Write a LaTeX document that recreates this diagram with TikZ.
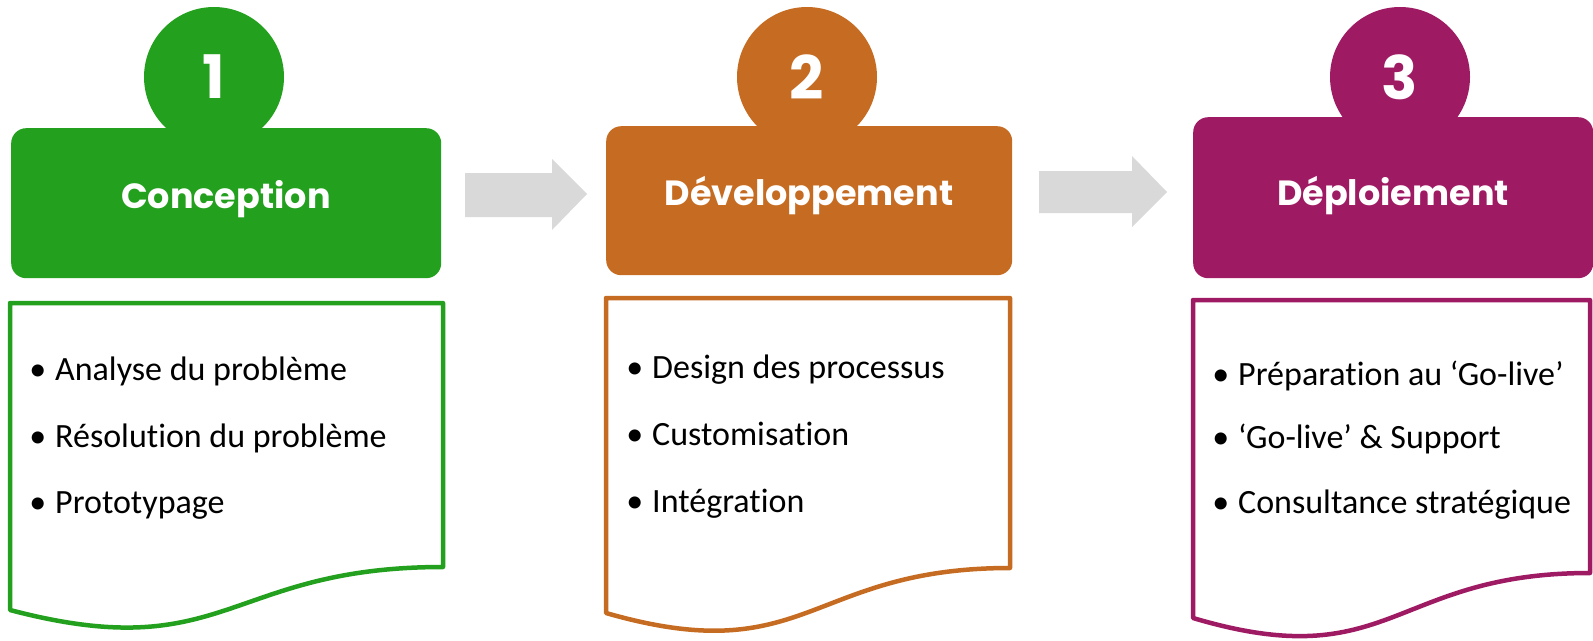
\documentclass[tikz,border=0pt]{standalone}
\usepackage{fontspec}
\setmainfont{Carlito}[Ligatures=NoCommon]
\newfontfamily\titlefont{Poppins}
\usepackage{tikz}

\definecolor{phasegreen}{RGB}{35,160,30}
\definecolor{phaseorange}{RGB}{198,108,34}
\definecolor{phasepurple}{RGB}{158,27,100}
\definecolor{arrowgray}{RGB}{217,217,217}

\begin{document}
\begin{tikzpicture}[x=1pt,y=-1pt]
    \tikzset{number/.style = {shape=circle,minimum size=140pt,inner sep=0pt,text=white,
        font=\titlefont\bfseries\fontsize{60}{60}\selectfont}}
    \tikzset{header/.style = {rectangle,rounded corners=15pt,inner sep=0pt,anchor=north west}}
    \tikzset{title/.style = {text=white,inner sep=0pt,font=\titlefont\bfseries\fontsize{35}{36}\selectfont}}
    \tikzset{doc/.style = {draw=#1,line width=4.5pt,line join=round,fill=white}}
    \tikzset{item/.style = {anchor=base west,inner sep=0pt,font=\fontsize{34}{36}\selectfont}}
    \tikzset{bigarrow/.style = {fill=arrowgray}}
    \useasboundingbox (0,0) rectangle (1593,640);
    % circles
    \node[number,fill=phasegreen] (N1) at (214,77) {1};
    \node[number,fill=phaseorange] (N2) at (807,77) {2};
    \node[number,fill=phasepurple] (N3) at (1400,77) {3};
    % headers
    \node[header,fill=phasegreen,minimum width=430pt,minimum height=150pt] (H1) at (11,128) {};
    \node[header,fill=phaseorange,minimum width=406pt,minimum height=149pt] (H2) at (606,126) {};
    \node[header,fill=phasepurple,minimum width=400pt,minimum height=161pt] (H3) at (1193,117) {};
    \node[title] (T1) at (226,199) {Conception};
    \node[title] (T2) at (809,196) {Développement};
    \node[title] (T3) at (1393,196) {Déploiement};
    % arrows
    \fill[bigarrow] (465,173) -- (552,173) -- (552,159) -- (587,194) -- (552,230) -- (552,217) -- (465,217) -- cycle;
    \fill[bigarrow] (1039,171) -- (1132,171) -- (1132,156) -- (1167,192) -- (1132,227) -- (1132,213) -- (1039,213) -- cycle;
    % documents
    \draw[doc=phasegreen] (10,303) -- (443,303) -- (443,567)
        .. controls (226.5,567) and (226.5,667) .. (10,610) -- cycle;
    \draw[doc=phaseorange] (606,298) -- (1010,298) -- (1010,568)
        .. controls (808,568) and (808,671) .. (606,613) -- cycle;
    \draw[doc=phasepurple] (1193,300) -- (1590,300) -- (1590,573)
        .. controls (1391.5,573) and (1391.5,677) .. (1193,618) -- cycle;
    % items
    \node[item] (A1) at (55,380) {\llap{\textbullet\hspace{9pt}}Analyse du problème};
    \node[item] (A2) at (55,447) {\llap{\textbullet\hspace{9pt}}Résolution du problème};
    \node[item] (A3) at (55,513) {\llap{\textbullet\hspace{9pt}}Prototypage};
    \node[item] (B1) at (652,378) {\llap{\textbullet\hspace{9pt}}Design des processus};
    \node[item] (B2) at (652,445) {\llap{\textbullet\hspace{9pt}}Customisation};
    \node[item] (B3) at (652,512) {\llap{\textbullet\hspace{9pt}}Intégration};
    \node[item] (C1) at (1238,385) {\llap{\textbullet\hspace{9pt}}Préparation au ‘Go-live’};
    \node[item] (C2) at (1238,448) {\llap{\textbullet\hspace{9pt}}‘Go-live’ \& Support};
    \node[item] (C3) at (1238,513) {\llap{\textbullet\hspace{9pt}}Consultance stratégique};
\end{tikzpicture}
\end{document}
